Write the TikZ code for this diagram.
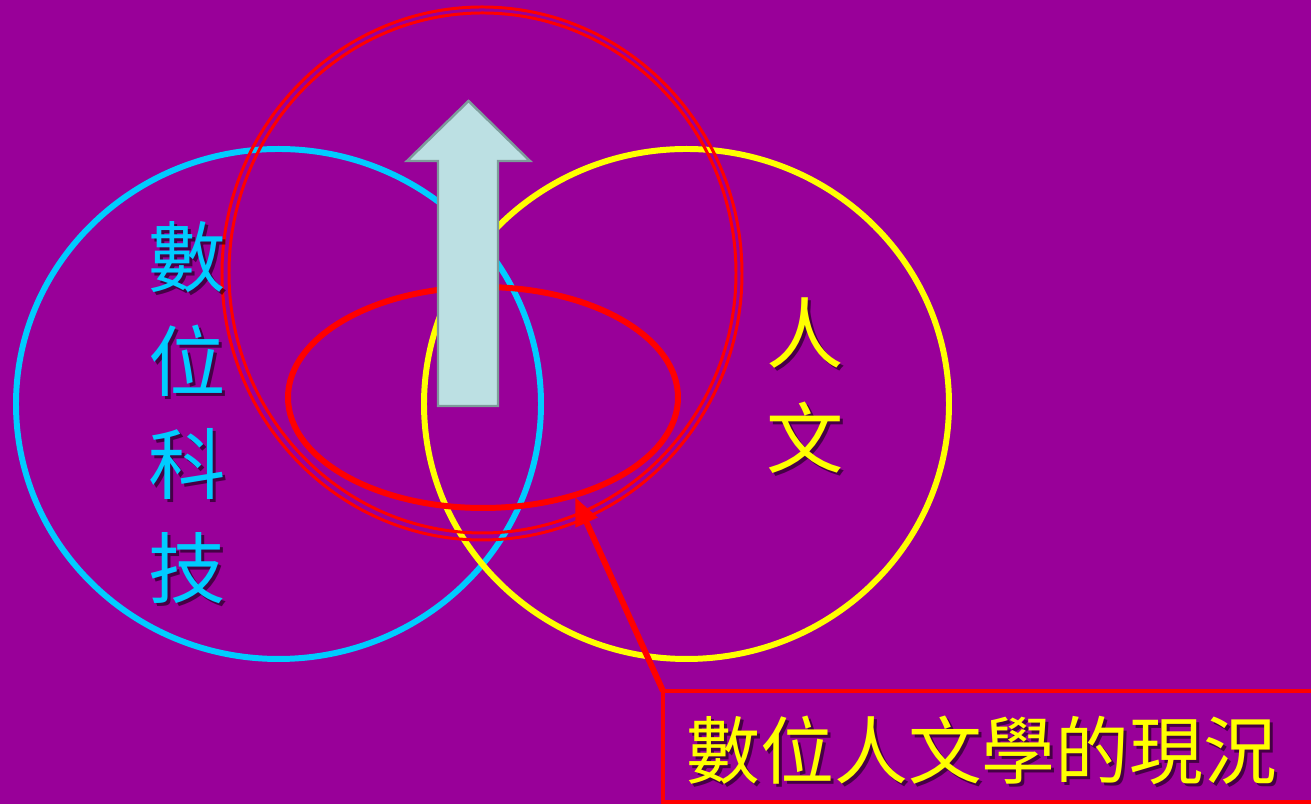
\documentclass[tikz,border=0pt]{standalone}
\usepackage{fontspec}
\newfontfamily\cjk{Noto Sans CJK TC}
\usetikzlibrary{arrows.meta}
\definecolor{bg}{RGB}{153,0,153}
\definecolor{cyanc}{RGB}{0,204,255}
\definecolor{yellowc}{RGB}{255,255,0}
\definecolor{redc}{RGB}{255,0,0}
\definecolor{arrowfill}{RGB}{188,224,227}
\definecolor{arrowline}{RGB}{125,155,155}
\tikzset{
  ring/.style={line width=1.7pt},
  thinring/.style={draw=redc, line width=0.85pt},
  shadowtxt/.style={text=black, opacity=0.55, inner sep=0pt, font=\cjk\fontsize{22}{22}\selectfont},
  cyantxt/.style={text=cyanc, inner sep=0pt, font=\cjk\fontsize{22}{22}\selectfont},
  yellowtxt/.style={text=yellowc, inner sep=0pt, font=\cjk\fontsize{22}{22}\selectfont},
  titlefont/.style={font=\cjk\fontsize{21}{21}\selectfont},
}
\begin{document}
\begin{tikzpicture}[x=0.01cm,y=-0.01cm]
\useasboundingbox (0,0) rectangle (1311,804);
\fill[bg] (0,0) rectangle (1311,804);
% circles
\draw[ring, cyanc] (278.5,404) ellipse [x radius=262.5, y radius=255];
\draw[ring, yellowc] (686.5,404) ellipse [x radius=262.5, y radius=255];
\draw[thinring] (482,273.5) ellipse [x radius=260, y radius=266.5];
\draw[thinring] (482.5,273) ellipse [x radius=253.5, y radius=260];
\draw[ring, redc] (483,397.5) ellipse [x radius=195, y radius=110.5];
% up arrow
\draw[arrowfill, fill=arrowfill, draw=arrowline, line width=0.7pt, line join=miter]
  (468.5,101) -- (530,161) -- (498,161) -- (498,406) -- (438,406) -- (438,161) -- (407,161) -- cycle;
% vertical labels
\foreach \ch/\yy/\nm in {數/257/a,位/361/b,科/464/c,技/568/d}{
  \node[shadowtxt] at (190,\yy+3) {\ch};
  \node[cyantxt] (tech\nm) at (187,\yy) {\ch};
}
\foreach \ch/\yy/\nm in {人/333/a,文/438/b}{
  \node[shadowtxt] at (808,\yy+3) {\ch};
  \node[yellowtxt] (hum\nm) at (805,\yy) {\ch};
}
% box and pointer
\coordinate (corner) at (663,691);
\coordinate (tip) at (575,497);
\draw[redc, line width=0.9pt] (663,691) rectangle (1330,802);
\draw[redc, line width=1.7pt, -{Triangle[length=8pt,width=6.5pt]}] (corner) -- (tip);
\node[shadowtxt, titlefont] at (985,753) {數位人文學的現況};
\node[yellowtxt, titlefont] (title) at (982,750) {數位人文學的現況};
\end{tikzpicture}
\end{document}
